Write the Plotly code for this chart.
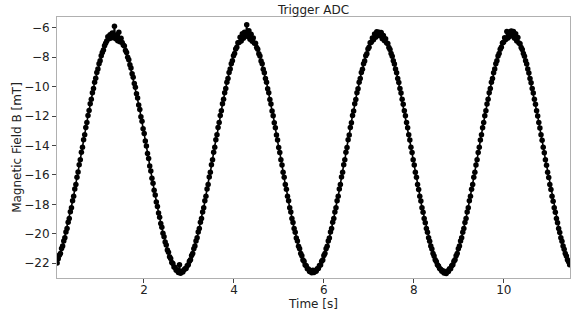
import plotly.graph_objects as go

# Time samples [s]
time_s = [
    0.0700, 0.0945, 0.1190, 0.1435, 0.1680, 0.1925, 0.2170, 0.2415, 0.2660, 0.2905,
    0.3150, 0.3395, 0.3640, 0.3885, 0.4130, 0.4375, 0.4620, 0.4865, 0.5110, 0.5355,
    0.5600, 0.5845, 0.6090, 0.6335, 0.6580, 0.6825, 0.7070, 0.7315, 0.7560, 0.7805,
    0.8050, 0.8295, 0.8540, 0.8785, 0.9030, 0.9275, 0.9520, 0.9765, 1.0010, 1.0255,
    1.0500, 1.0745, 1.0990, 1.1235, 1.1480, 1.1725, 1.1970, 1.2215, 1.2460, 1.2705,
    1.2950, 1.3195, 1.3440, 1.3685, 1.3930, 1.4175, 1.4420, 1.4665, 1.4910, 1.5155,
    1.5400, 1.5645, 1.5890, 1.6135, 1.6380, 1.6625, 1.6870, 1.7115, 1.7360, 1.7605,
    1.7850, 1.8095, 1.8340, 1.8585, 1.8830, 1.9075, 1.9320, 1.9565, 1.9810, 2.0055,
    2.0300, 2.0545, 2.0790, 2.1035, 2.1280, 2.1525, 2.1770, 2.2015, 2.2260, 2.2505,
    2.2750, 2.2995, 2.3240, 2.3485, 2.3730, 2.3975, 2.4220, 2.4465, 2.4710, 2.4955,
    2.5200, 2.5445, 2.5690, 2.5935, 2.6180, 2.6425, 2.6670, 2.6915, 2.7160, 2.7405,
    2.7650, 2.7895, 2.8140, 2.8385, 2.8630, 2.8875, 2.9120, 2.9365, 2.9610, 2.9855,
    3.0100, 3.0345, 3.0590, 3.0835, 3.1080, 3.1325, 3.1570, 3.1815, 3.2060, 3.2305,
    3.2550, 3.2795, 3.3040, 3.3285, 3.3530, 3.3775, 3.4020, 3.4265, 3.4510, 3.4755,
    3.5000, 3.5245, 3.5490, 3.5735, 3.5980, 3.6225, 3.6470, 3.6715, 3.6960, 3.7205,
    3.7450, 3.7695, 3.7940, 3.8185, 3.8430, 3.8675, 3.8920, 3.9165, 3.9410, 3.9655,
    3.9900, 4.0145, 4.0390, 4.0635, 4.0880, 4.1125, 4.1370, 4.1615, 4.1860, 4.2105,
    4.2350, 4.2595, 4.2840, 4.3085, 4.3330, 4.3575, 4.3820, 4.4065, 4.4310, 4.4555,
    4.4800, 4.5045, 4.5290, 4.5535, 4.5780, 4.6025, 4.6270, 4.6515, 4.6760, 4.7005,
    4.7250, 4.7495, 4.7740, 4.7985, 4.8230, 4.8475, 4.8720, 4.8965, 4.9210, 4.9455,
    4.9700, 4.9945, 5.0190, 5.0435, 5.0680, 5.0925, 5.1170, 5.1415, 5.1660, 5.1905,
    5.2150, 5.2395, 5.2640, 5.2885, 5.3130, 5.3375, 5.3620, 5.3865, 5.4110, 5.4355,
    5.4600, 5.4845, 5.5090, 5.5335, 5.5580, 5.5825, 5.6070, 5.6315, 5.6560, 5.6805,
    5.7050, 5.7295, 5.7540, 5.7785, 5.8030, 5.8275, 5.8520, 5.8765, 5.9010, 5.9255,
    5.9500, 5.9745, 5.9990, 6.0235, 6.0480, 6.0725, 6.0970, 6.1215, 6.1460, 6.1705,
    6.1950, 6.2195, 6.2440, 6.2685, 6.2930, 6.3175, 6.3420, 6.3665, 6.3910, 6.4155,
    6.4400, 6.4645, 6.4890, 6.5135, 6.5380, 6.5625, 6.5870, 6.6115, 6.6360, 6.6605,
    6.6850, 6.7095, 6.7340, 6.7585, 6.7830, 6.8075, 6.8320, 6.8565, 6.8810, 6.9055,
    6.9300, 6.9545, 6.9790, 7.0035, 7.0280, 7.0525, 7.0770, 7.1015, 7.1260, 7.1505,
    7.1750, 7.1995, 7.2240, 7.2485, 7.2730, 7.2975, 7.3220, 7.3465, 7.3710, 7.3955,
    7.4200, 7.4445, 7.4690, 7.4935, 7.5180, 7.5425, 7.5670, 7.5915, 7.6160, 7.6405,
    7.6650, 7.6895, 7.7140, 7.7385, 7.7630, 7.7875, 7.8120, 7.8365, 7.8610, 7.8855,
    7.9100, 7.9345, 7.9590, 7.9835, 8.0080, 8.0325, 8.0570, 8.0815, 8.1060, 8.1305,
    8.1550, 8.1795, 8.2040, 8.2285, 8.2530, 8.2775, 8.3020, 8.3265, 8.3510, 8.3755,
    8.4000, 8.4245, 8.4490, 8.4735, 8.4980, 8.5225, 8.5470, 8.5715, 8.5960, 8.6205,
    8.6450, 8.6695, 8.6940, 8.7185, 8.7430, 8.7675, 8.7920, 8.8165, 8.8410, 8.8655,
    8.8900, 8.9145, 8.9390, 8.9635, 8.9880, 9.0125, 9.0370, 9.0615, 9.0860, 9.1105,
    9.1350, 9.1595, 9.1840, 9.2085, 9.2330, 9.2575, 9.2820, 9.3065, 9.3310, 9.3555,
    9.3800, 9.4045, 9.4290, 9.4535, 9.4780, 9.5025, 9.5270, 9.5515, 9.5760, 9.6005,
    9.6250, 9.6495, 9.6740, 9.6985, 9.7230, 9.7475, 9.7720, 9.7965, 9.8210, 9.8455,
    9.8700, 9.8945, 9.9190, 9.9435, 9.9680, 9.9925, 10.0170, 10.0415, 10.0660, 10.0905,
    10.1150, 10.1395, 10.1640, 10.1885, 10.2130, 10.2375, 10.2620, 10.2865, 10.3110, 10.3355,
    10.3600, 10.3845, 10.4090, 10.4335, 10.4580, 10.4825, 10.5070, 10.5315, 10.5560, 10.5805,
    10.6050, 10.6295, 10.6540, 10.6785, 10.7030, 10.7275, 10.7520, 10.7765, 10.8010, 10.8255,
    10.8500, 10.8745, 10.8990, 10.9235, 10.9480, 10.9725, 10.9970, 11.0215, 11.0460, 11.0705,
    11.0950, 11.1195, 11.1440, 11.1685, 11.1930, 11.2175, 11.2420, 11.2665, 11.2910, 11.3155,
    11.3400, 11.3645, 11.3890, 11.4135, 11.4380, 11.4625,
]

# Magnetic field B [mT], cycle by cycle
rise_1 = [
    -21.98, -21.70, -21.45, -21.33, -21.00, -20.83, -20.49, -20.27, -19.88, -19.63,
    -19.22, -18.95, -18.50, -18.22, -17.75, -17.44, -16.96, -16.64, -16.15, -15.80,
    -15.31, -14.96, -14.46, -14.12, -13.61, -13.27, -12.78, -12.44, -11.96, -11.63,
    -11.17, -10.86, -10.41, -10.12, -9.70, -9.43, -9.04, -8.80, -8.45, -8.24,
    -7.91, -7.68, -7.52, -7.22, -7.05, -6.90, -6.62, -6.75, -6.48, -6.70,
    -6.35, -6.62, -5.90,
]
fall_1 = [
    -6.75, -6.50, -6.88, -6.30, -6.95, -6.72, -7.00, -7.18, -7.24, -7.55,
    -7.68, -8.00, -8.18, -8.52, -8.74, -9.12, -9.37, -9.78, -10.05, -10.49,
    -10.78, -11.25, -11.56, -12.04, -12.36, -12.86, -13.19, -13.69, -14.04, -14.54,
    -14.88, -15.39, -15.73, -16.22, -16.56, -17.04, -17.36, -17.83, -18.14, -18.59,
    -18.87, -19.30, -19.55, -19.96, -20.19, -20.56, -20.75, -21.09, -21.25, -21.56,
    -21.68, -21.94, -22.02, -22.25, -22.28, -22.47, -22.45, -22.62, -22.10, -22.68,
]
rise_2 = [
    -22.55, -22.60, -22.46, -22.38, -22.35, -22.16, -22.10, -21.86, -21.76, -21.48,
    -21.33, -21.01, -20.83, -20.48, -20.27, -19.88, -19.63, -19.22, -18.95, -18.51,
    -18.22, -17.75, -17.44, -16.96, -16.64, -16.14, -15.81, -15.31, -14.96, -14.46,
    -14.12, -13.61, -13.27, -12.78, -12.44, -11.96, -11.64, -11.17, -10.86, -10.41,
    -10.13, -9.70, -9.44, -9.04, -8.81, -8.44, -8.25, -7.91, -7.75, -7.45,
    -7.32, -7.02, -7.00, -6.65, -6.90, -6.40, -6.72, -6.30, -6.55, -5.80,
]
fall_2 = [
    -6.60, -6.20, -6.78, -6.45, -6.92, -6.70, -7.05, -7.06, -7.35, -7.46,
    -7.76, -7.92, -8.26, -8.45, -8.82, -9.05, -9.45, -9.71, -10.14, -10.42,
    -10.87, -11.18, -11.65, -11.97, -12.45, -12.79, -13.28, -13.62, -14.13, -14.47,
    -14.97, -15.32, -15.82, -16.15, -16.65, -16.97, -17.45, -17.76, -18.23, -18.52,
    -18.96, -19.23, -19.64, -19.89, -20.28, -20.49, -20.84, -21.02, -21.34, -21.49,
    -21.77, -21.87, -22.11, -22.17, -22.37, -22.39, -22.55, -22.50, -22.64, -22.48,
]
rise_3 = [
    -22.62, -22.52, -22.54, -22.38, -22.36, -22.15, -22.11, -21.86, -21.77, -21.48,
    -21.34, -21.01, -20.84, -20.48, -20.28, -19.88, -19.64, -19.22, -18.96, -18.51,
    -18.23, -17.75, -17.45, -16.96, -16.65, -16.14, -15.82, -15.31, -14.97, -14.46,
    -14.13, -13.61, -13.28, -12.78, -12.45, -11.96, -11.65, -11.17, -10.87, -10.41,
    -10.14, -9.70, -9.45, -9.04, -8.82, -8.44, -8.26, -7.91, -7.76, -7.45,
    -7.33, -7.02, -6.99, -6.70, -6.82, -6.42, -6.65, -6.28, -6.52, -6.30,
]
fall_3 = [
    -6.55, -6.32, -6.74, -6.52, -6.88, -6.74, -7.03, -7.07, -7.34, -7.47,
    -7.75, -7.93, -8.25, -8.46, -8.81, -9.06, -9.44, -9.72, -10.13, -10.43,
    -10.86, -11.19, -11.64, -11.98, -12.44, -12.80, -13.27, -13.63, -14.12, -14.48,
    -14.96, -15.33, -15.81, -16.16, -16.64, -16.98, -17.44, -17.77, -18.22, -18.53,
    -18.95, -19.24, -19.63, -19.90, -20.27, -20.50, -20.83, -21.03, -21.33, -21.50,
    -21.76, -21.88, -22.10, -22.18, -22.36, -22.40, -22.54, -22.51, -22.66, -22.62,
]
rise_4 = [
    -22.70, -22.53, -22.55, -22.37, -22.37, -22.16, -22.10, -21.87, -21.76, -21.49,
    -21.33, -21.02, -20.83, -20.49, -20.27, -19.89, -19.63, -19.23, -18.95, -18.52,
    -18.22, -17.76, -17.44, -16.97, -16.64, -16.15, -15.81, -15.32, -14.96, -14.47,
    -14.12, -13.62, -13.27, -12.79, -12.44, -11.97, -11.64, -11.18, -10.86, -10.42,
    -10.13, -9.71, -9.44, -9.05, -8.81, -8.45, -8.25, -7.92, -7.75, -7.46,
    -7.33, -7.03, -6.98, -6.68, -6.80, -6.25, -6.70, -6.30, -6.58, -6.22,
]
fall_4 = [
    -6.48, -6.25, -6.72, -6.40, -6.90, -6.66, -7.04, -7.08, -7.34, -7.48,
    -7.75, -7.94, -8.25, -8.47, -8.81, -9.07, -9.44, -9.73, -10.13, -10.44,
    -10.86, -11.20, -11.64, -11.99, -12.44, -12.81, -13.27, -13.64, -14.12, -14.49,
    -14.96, -15.34, -15.81, -16.17, -16.64, -16.99, -17.44, -17.78, -18.22, -18.54,
    -18.95, -19.25, -19.63, -19.91, -20.27, -20.51, -20.83, -21.04, -21.33, -21.51,
    -21.76, -21.89, -22.10,
]

field_mT = rise_1 + fall_1 + rise_2 + fall_2 + rise_3 + fall_3 + rise_4 + fall_4
n = min(len(time_s), len(field_mT))

x_ticks = [2, 4, 6, 8, 10]
y_ticks = [-22, -20, -18, -16, -14, -12, -10, -8, -6]

fig = go.Figure()
fig.add_trace(go.Scatter(
    x=time_s[:n], y=field_mT[:n], mode="lines+markers",
    line=dict(color="black", width=1.6),
    marker=dict(color="black", size=5.5),
    showlegend=False,
))

axis_common = dict(
    showline=True, mirror=True, linecolor="#b0b0b0", linewidth=1,
    ticks="outside", ticklen=4, tickwidth=1, tickcolor="#444444",
    showgrid=False, zeroline=False, automargin=False,
    tickfont=dict(family="DejaVu Sans", size=12, color="#222222"),
)

fig.update_layout(
    width=577, height=312,
    margin=dict(l=57, r=7, t=17, b=34),
    paper_bgcolor="white", plot_bgcolor="white",
    font=dict(family="DejaVu Sans", color="#222222"),
    title=dict(text="Trigger ADC", x=0.5434, xanchor="center",
               y=1 - 10 / 312, yanchor="middle", yref="container",
               font=dict(size=12, color="#222222")),
    xaxis=dict(range=[0.067, 11.47], tickvals=x_ticks, ticklabelstandoff=-3,
               title=dict(text="Time [s]", font=dict(size=12), standoff=0),
               **axis_common),
    yaxis=dict(range=[-23.0, -5.27], tickvals=y_ticks,
               title=dict(text="Magnetic Field B [mT]", font=dict(size=12), standoff=0),
               **axis_common),
)

fig.write_html("out.html", config={"displayModeBar": False},
               post_script="document.body.style.margin='0';")
